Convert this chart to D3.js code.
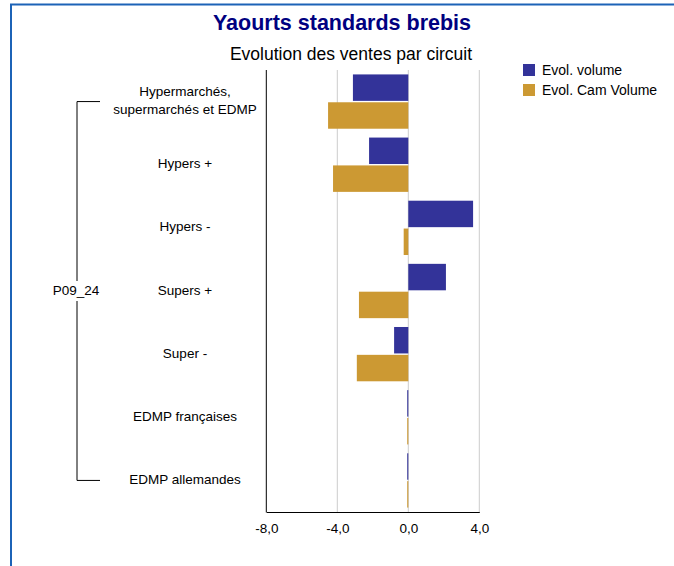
<!DOCTYPE html>
<html><head><meta charset="utf-8">
<script src="https://cdn.jsdelivr.net/npm/d3@7"></script>
<style>body{margin:0;background:#fff}svg{display:block}text{font-family:"Liberation Sans",Arial,sans-serif}</style>
</head><body>
<svg id="c" width="674" height="566"></svg>
<script>
const categories = ["Hypermarchés,\nsupermarchés et EDMP","Hypers +","Hypers -","Supers +","Super -","EDMP françaises","EDMP allemandes"];
const seriesNames = ["Evol. volume","Evol. Cam Volume"];
const evolVolume = [-3.12,-2.21,3.65,2.12,-0.8,-0.06,-0.06];
const evolCamVolume = [-4.52,-4.24,-0.26,-2.78,-2.9,-0.06,-0.06];
const xTicks = [-8,-4,0,4];
const groupLabel = "P09_24";
const colors = ["#333399","#cc9933"];

const svg = d3.select("#c");
// frame
svg.append("path").attr("d","M11,566 V4.5 H674").attr("fill","none").attr("stroke","#1c63b7").attr("stroke-width",2);

svg.append("text").attr("x",342).attr("y",30).attr("text-anchor","middle")
  .attr("font-size",21.5).attr("font-weight","bold").attr("fill","#000080").text("Yaourts standards brebis");
svg.append("text").attr("x",351).attr("y",60).attr("text-anchor","middle")
  .attr("font-size",17.5).attr("fill","#000").text("Evolution des ventes par circuit");

const x = d3.scaleLinear().domain([-8,4]).range([266.3,479.3]);
const y = d3.scaleBand().domain(categories).range([70,512]).paddingInner(0.14).paddingOuter(0.07);
const ys = d3.scaleBand().domain([0,1]).range([0,y.bandwidth()]).paddingInner(0.05);

const g = svg.append("g");
// gridlines
g.selectAll("line.grid").data(xTicks.slice(1)).join("line")
  .attr("x1",d=>x(d)).attr("x2",d=>x(d)).attr("y1",70).attr("y2",512)
  .attr("stroke","#cccccc").attr("stroke-width",1);

const data = categories.map((c,i)=>({c, v:[evolVolume[i],evolCamVolume[i]]}));
data.forEach(d=>{
  d.v.forEach((v,j)=>{
    g.append("rect").attr("x",x(Math.min(0,v))).attr("width",Math.abs(x(v)-x(0)))
      .attr("y",y(d.c)+ys(j)).attr("height",ys.bandwidth()).attr("fill",colors[j]);
  });
});

// axes
const xAxis = d3.axisBottom(x).tickValues(xTicks).tickSize(0).tickPadding(11)
  .tickFormat(d=>d3.format(".1f")(d).replace(".",",").replace("−","-"));
const ax = svg.append("g").attr("transform","translate(0,512)").call(xAxis);
ax.select(".domain").attr("stroke","#000");
ax.selectAll("text").attr("font-size",13.5).attr("fill","#000").attr("font-family","\"Liberation Sans\",Arial,sans-serif");
svg.append("line").attr("x1",x(-8)).attr("x2",x(-8)).attr("y1",70).attr("y2",512.5).attr("stroke","#000");

// category labels
categories.forEach(c=>{
  const lines = c.split("\n");
  const cy = y(c)+y.bandwidth()/2;
  const t = svg.append("text").attr("x",185).attr("text-anchor","middle").attr("font-size",13.5).attr("fill","#000");
  lines.forEach((l,k)=>{
    t.append("tspan").attr("x",185).attr("y",cy+3.5+(k-(lines.length-1)/2)*17.5).text(l);
  });
});

// bracket
const bTop = y(categories[0])+y.bandwidth()/2, bBot = y(categories[categories.length-1])+y.bandwidth()/2;
const bMid = (bTop+bBot)/2;
svg.append("path").attr("d",`M100,${bTop} H77 V${bMid-10} M77,${bMid+10} V${bBot} H100`)
  .attr("fill","none").attr("stroke","#000").attr("stroke-width",1);
svg.append("text").attr("x",76).attr("y",bMid+4).attr("text-anchor","middle").attr("font-size",13.5).text(groupLabel);

// legend
seriesNames.forEach((n,i)=>{
  svg.append("rect").attr("x",523).attr("y",64+i*20).attr("width",12).attr("height",12).attr("fill",colors[i]);
  svg.append("text").attr("x",542).attr("y",75+i*20).attr("font-size",14).text(n);
});
</script>
</body></html>
